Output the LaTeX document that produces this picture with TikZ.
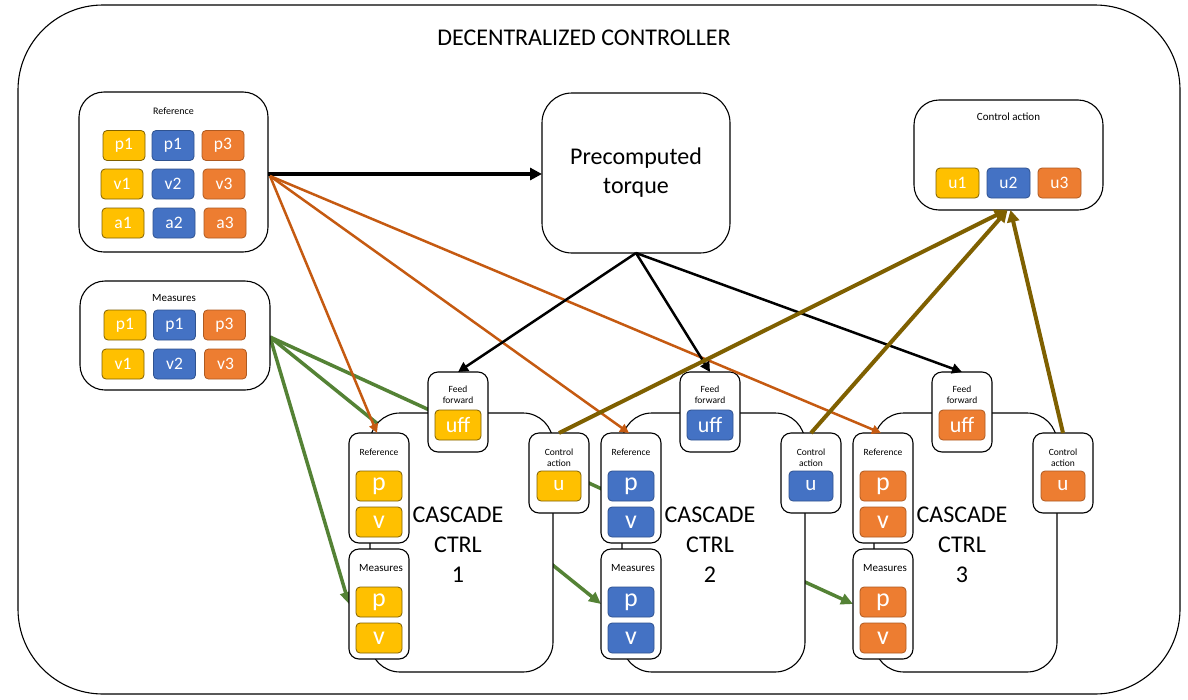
\documentclass[tikz,border=0pt]{standalone}
\usepackage{fontspec}
\setmainfont{Carlito}
\usetikzlibrary{arrows.meta}
\definecolor{cy}{HTML}{FFC000}\definecolor{cyd}{HTML}{7F6000}
\definecolor{cb}{HTML}{4472C4}\definecolor{cbd}{HTML}{2F528F}
\definecolor{co}{HTML}{ED7D31}\definecolor{cod}{HTML}{AE5A21}
\definecolor{aor}{HTML}{C55A11}\definecolor{agr}{HTML}{548235}\definecolor{aol}{HTML}{7F6000}
\pgfdeclarelayer{back}\pgfdeclarelayer{bg}
\pgfsetlayers{back,bg,main}
\tikzset{
 frame/.style={draw=black, line width=1.1pt, fill=white, rounded corners=#1, inner sep=0pt, outer sep=0pt},
 frame/.default=10pt,
 cellbase/.style={rounded corners=4pt, line width=0.8pt, text=white, inner sep=0pt, outer sep=0pt, minimum height=30, minimum width=42, font=\fontsize{17.5}{17.5}\selectfont},
 ycell/.style={cellbase, fill=cy, draw=cyd},
 bcell/.style={cellbase, fill=cb, draw=cbd},
 ocell/.style={cellbase, fill=co, draw=cod},
 lbl/.style={font=\fontsize{10}{10}\selectfont, inner sep=0pt},
 mlbl/.style={font=\fontsize{11}{11}\selectfont, inner sep=0pt},
 slbl/.style={font=\fontsize{9.5}{11}\selectfont, inner sep=0pt, align=center},
 big/.style={font=\fontsize{24}{30}\selectfont, align=center, inner sep=0pt},
 blk/.style={draw=black, line width=4pt, -{Triangle[length=12pt,width=12pt]}},
 blks/.style={draw=black, line width=2.5pt, -{Triangle[length=10pt,width=10pt]}},
 orn/.style={draw=aor, line width=2.5pt, -{Triangle[length=9pt,width=9pt]}},
 grn/.style={draw=agr, line width=3.5pt, -{Triangle[length=12pt,width=11pt]}},
 olv/.style={draw=aol, line width=4pt, -{Triangle[length=12pt,width=12pt]}},
}
\begin{document}
\begin{tikzpicture}[x=1pt,y=-1pt]
\useasboundingbox (0,0) rectangle (1188,699);
\begin{pgfonlayer}{back}
\node[frame=85pt, minimum width=1162, minimum height=689] (outer) at (599,349.5) {};
\end{pgfonlayer}
\node[font=\fontsize{24}{24}\selectfont] (title) at (584,38) {DECENTRALIZED CONTROLLER};

% Reference box
\node[frame=25pt, minimum width=189, minimum height=160] (ref) at (173.5,172) {};
\node[lbl] (reflbl) at (173.5,111) {Reference};
\node[ycell] (rp1) at (124,145.5) {p1};
\node[bcell] (rp2) at (173,145.5) {p1};
\node[ocell] (rp3) at (223,145.5) {p3};
\node[ycell] (rv1) at (122,184) {v1};
\node[bcell] (rv2) at (173,184) {v2};
\node[ocell] (rv3) at (224,184) {v3};
\node[ycell] (ra1) at (123,223) {a1};
\node[bcell] (ra2) at (174,223) {a2};
\node[ocell] (ra3) at (225,223) {a3};

% Measures box
\node[frame=25pt, minimum width=190, minimum height=109] (meas) at (175,335.5) {};
\node[mlbl] (measlbl) at (174,298) {Measures};
\node[ycell] (mp1) at (125,325) {p1};
\node[bcell] (mp2) at (174.5,325) {p1};
\node[ocell] (mp3) at (224.5,325) {p3};
\node[ycell] (mv1) at (123,364) {v1};
\node[bcell] (mv2) at (174.5,364) {v2};
\node[ocell] (mv3) at (225.5,364) {v3};

% Precomputed torque
\node[frame=30pt, minimum width=188, minimum height=160] (pt) at (636,173) {};
\node[font=\fontsize{24}{29}\selectfont, align=center] (pttxt) at (636,173) {Precomputed\\torque};

% Control action box
\node[frame=25pt, minimum width=189, minimum height=110] (cab) at (1008.5,155) {};
\node[mlbl] (cablbl) at (1008.5,117) {Control action};
\node[ycell, minimum width=43] (u1) at (957.5,183) {u1};
\node[bcell, minimum width=43] (u2) at (1008.5,183) {u2};
\node[ocell, minimum width=43] (u3) at (1059.5,183) {u3};

% Cascade controllers
\foreach \i/\d/\cs in {1/0/ycell,2/252/bcell,3/504/ocell}{
 \node[frame=30pt, minimum width=183, minimum height=259] (body\i) at (461.5+\d,542.5) {};
 \node[big] (t\i) at (458+\d,545) {CASCADE\\CTRL\\\i};
 \node[frame, minimum width=60, minimum height=80] (ff\i) at (458+\d,412) {};
 \node[slbl] (ffl\i) at (458+\d,395) {Feed\\forward};
 \node[\cs, minimum width=46, font=\fontsize{22}{22}\selectfont] (uff\i) at (458+\d,425) {uff};
 \node[frame, minimum width=60, minimum height=110] (r\i) at (379+\d,488) {};
 \node[slbl] (rl\i) at (379+\d,452) {Reference};
 \node[\cs, minimum width=46, font=\fontsize{26}{26}\selectfont] (rp\i) at (379+\d,486) {p};
 \node[\cs, minimum width=46, font=\fontsize{26}{26}\selectfont] (rv\i) at (379+\d,522) {v};
 \node[frame, minimum width=60, minimum height=110] (m\i) at (379+\d,604) {};
 \node[mlbl] (ml\i) at (381+\d,568) {Measures};
 \node[\cs, minimum width=46, font=\fontsize{26}{26}\selectfont] (mpp\i) at (379+\d,602) {p};
 \node[\cs, minimum width=46, font=\fontsize{26}{26}\selectfont] (mvv\i) at (379+\d,638) {v};
 \node[frame, minimum width=60, minimum height=80] (ca\i) at (559+\d,473) {};
 \node[slbl] (cal\i) at (559+\d,457.5) {Control\\action};
 \node[\cs, minimum width=44, font=\fontsize{21}{21}\selectfont] (cu\i) at (559+\d,486) {u};
}

% connectors
\coordinate (rs) at (270,176);
\coordinate (ms) at (270,337);
\draw[blk] (ref.east |- rs) ++(0,-2) coordinate (bs) (bs) -- (bs -| pt.west);
\begin{pgfonlayer}{bg}
\foreach \i in {1,2,3}{
 \draw[grn] (ms) -- (m\i.west);
}
\end{pgfonlayer}
\foreach \i in {1,2,3}{
 \draw[orn] (rs) -- ([xshift=-2]r\i.north);
}
\foreach \i in {1,2,3}{
 \draw[blks] (pt.south) -- (ff\i.north);
}
\draw[olv] (ca1.north) -- ([xshift=-2]cab.south);
\draw[olv] (ca2.north) -- ([xshift=-1]cab.south);
\draw[olv] (ca3.north) -- ([xshift=2]cab.south);
\end{tikzpicture}
\end{document}
